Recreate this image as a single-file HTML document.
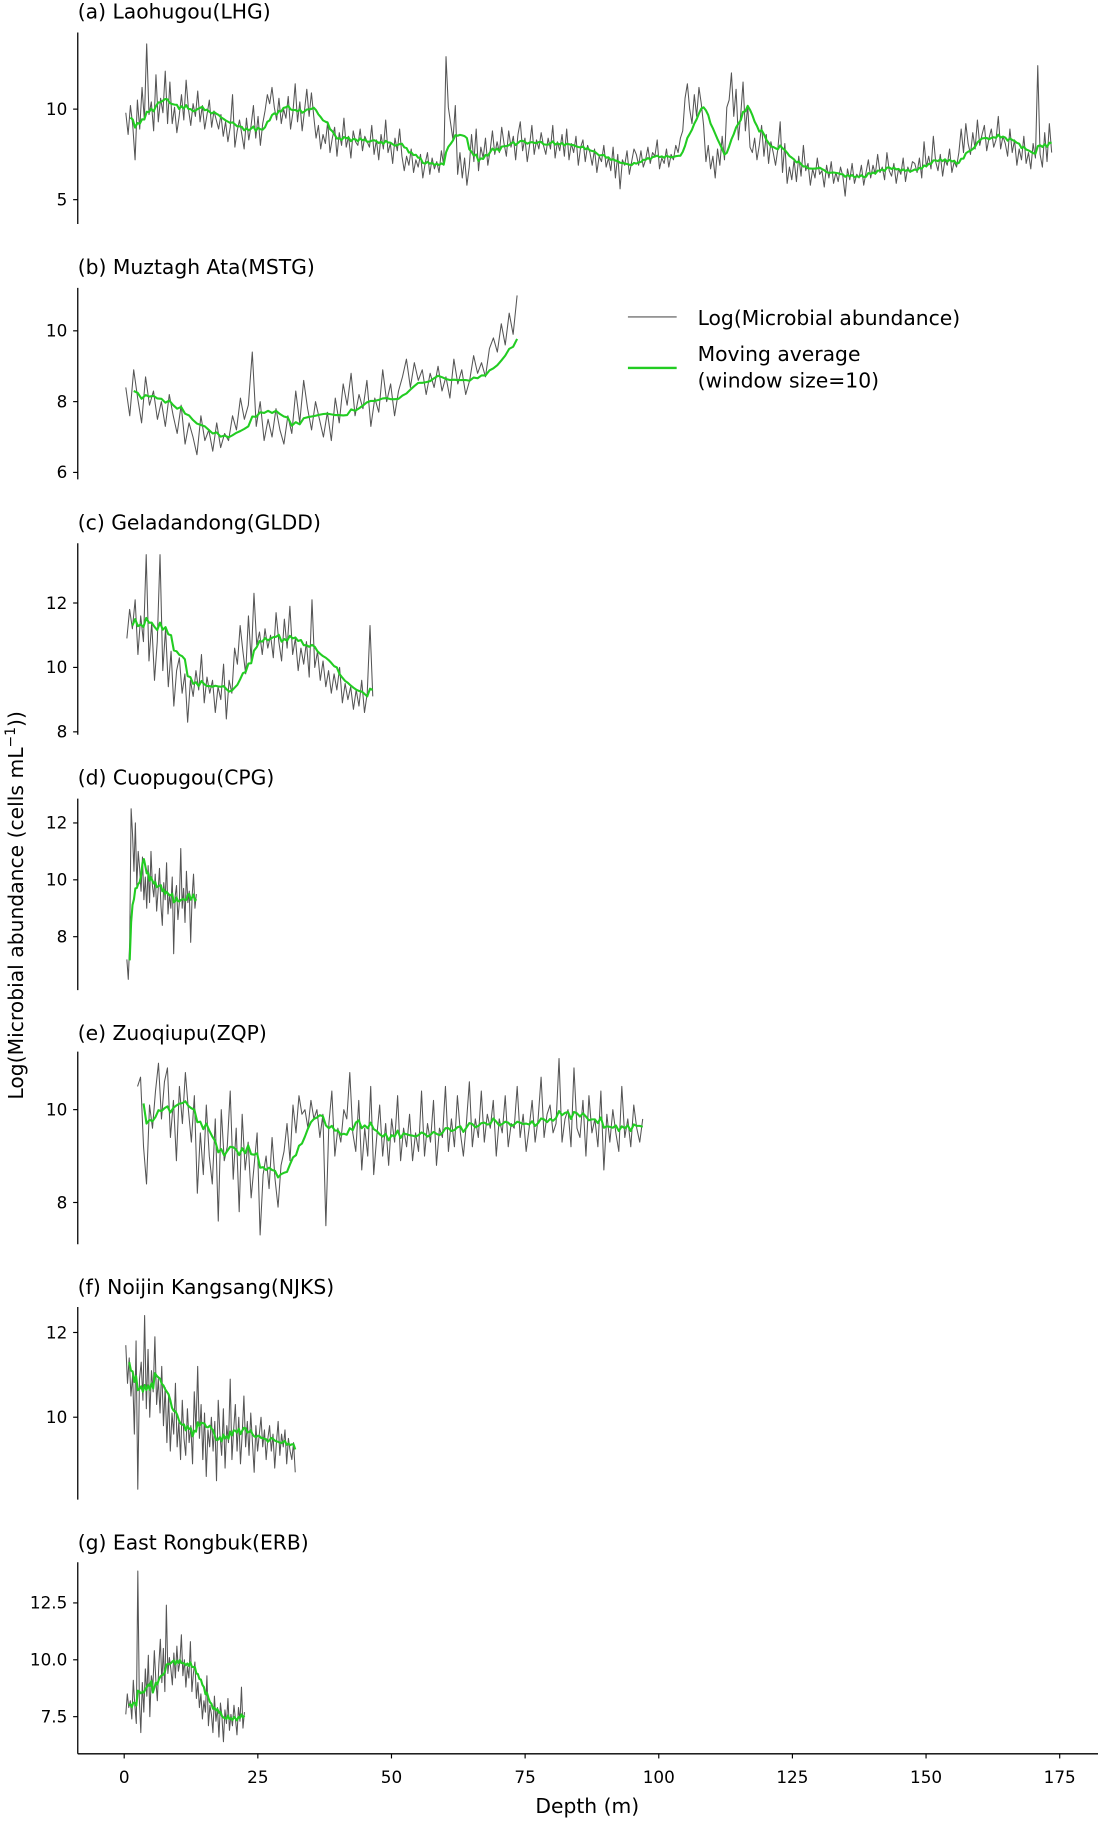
<!DOCTYPE html>
<html><head><meta charset="utf-8"><style>
html,body{margin:0;padding:0;background:#fff}
svg text{font-family:"DejaVu Sans","Liberation Sans",sans-serif;fill:#000}
</style></head><body>
<svg id="fig" width="1098" height="1820" viewBox="0 0 946 1568" xmlns="http://www.w3.org/2000/svg">
<rect width="946" height="1568" fill="#fff"/>
<g id="panels"></g>
<g>
<line x1="541" y1="273" x2="583" y2="273" stroke="#555" stroke-width="1"/>
<text x="601" y="280" font-size="17.5">Log(Microbial abundance)</text>
<line x1="541" y1="317" x2="583" y2="317" stroke="#22cc22" stroke-width="2"/>
<text x="601" y="311" font-size="17.5">Moving average</text>
<text x="601" y="334" font-size="17.5">(window size=10)</text>
</g>
<text transform="translate(20,780) rotate(-90)" text-anchor="middle" font-size="17.5">Log(Microbial abundance (cells mL<tspan font-size="12" dy="-7">−1</tspan><tspan dy="7">))</tspan></text>
<text x="506" y="1562" text-anchor="middle" font-size="17.5">Depth (m)</text>
</svg>
<script>
const xTicks=[0,25,50,75,100,125,150,175];
const lhgVals=[9.8,8.6,10.2,9.1,7.2,10.5,8.9,11.2,9.4,13.6,9.7,10.4,8.8,11.9,9.3,10.6,9.8,12.1,9.2,11.5,
9.2,10.1,8.7,9.6,10.8,9.4,11.6,10.0,9.1,10.3,9.6,11.0,9.3,10.2,8.9,9.7,10.5,9.0,9.9,9.4,
8.9,9.7,8.5,9.3,8.2,9.0,10.8,7.9,8.8,9.4,8.6,7.8,9.5,8.3,9.1,10.2,8.4,9.6,8.0,9.2,
9.9,10.8,10.3,11.2,10.1,9.4,10.6,9.2,10.0,9.5,10.7,8.9,9.8,11.4,9.3,10.4,8.8,9.9,11.1,9.6,
10.9,9.6,8.4,9.1,7.8,8.6,8.1,9.3,7.6,8.4,9.0,7.4,8.7,8.0,9.5,7.9,8.5,7.3,8.8,8.2,
8.0,8.9,7.7,8.5,8.2,7.9,9.1,7.5,8.3,7.2,8.6,7.8,9.4,7.6,8.1,7.0,8.4,7.7,8.9,7.4,
6.6,7.4,6.9,7.8,6.5,7.2,6.8,7.5,6.2,7.0,7.6,6.4,7.3,6.7,7.1,6.5,7.7,6.9,12.9,10.1,
9.2,8.3,10.2,6.4,7.6,6.2,7.3,5.8,6.8,8.6,7.1,8.9,6.6,7.9,7.3,8.4,6.9,7.7,8.8,7.5,
8.2,7.6,9.0,8.1,7.4,8.8,7.9,8.5,7.2,8.6,9.3,7.7,8.4,7.1,8.0,9.1,7.5,8.3,7.8,8.7,
8.0,7.5,8.4,7.8,9.1,7.3,8.2,7.7,8.6,7.4,8.9,7.2,8.1,7.6,8.5,6.9,7.9,8.3,7.1,8.0,
7.6,6.9,7.8,6.5,7.4,7.1,8.0,6.8,7.3,6.6,7.9,6.2,7.5,5.6,7.2,6.9,7.7,6.4,7.1,7.8,
7.5,6.9,7.7,6.8,7.2,7.9,7.0,7.6,7.4,8.3,6.7,7.3,7.0,7.8,6.8,7.5,7.2,8.0,7.6,8.4,
8.8,10.6,11.4,10.0,9.2,10.8,9.6,11.2,10.3,9.1,7.1,8.0,6.7,7.4,6.2,7.8,6.9,8.5,7.2,10.1,
10.5,12.0,9.6,11.1,8.3,9.7,11.5,8.8,10.2,7.9,7.6,8.4,7.2,8.0,9.1,7.4,8.6,7.0,8.2,7.6,
6.9,7.8,9.3,6.5,8.1,5.9,6.8,6.1,7.2,6.0,7.4,6.3,8.0,6.6,7.0,5.8,6.7,6.2,7.3,6.4,
6.6,5.7,6.9,6.2,7.1,5.9,6.5,6.0,6.8,6.3,5.2,6.7,6.1,7.0,5.9,6.4,6.2,6.9,5.8,6.5,
7.2,6.2,6.9,6.4,7.5,6.5,6.8,6.1,7.6,6.6,6.3,7.0,5.9,6.7,6.4,7.3,6.0,6.8,6.5,7.1,
7.0,6.5,7.3,6.2,8.2,6.8,7.4,6.7,8.5,7.1,6.6,7.5,6.3,7.2,6.9,7.8,6.5,7.1,6.8,7.6,
8.9,7.6,9.2,8.1,7.5,8.7,7.8,9.4,8.0,8.6,9.1,7.7,8.4,8.9,7.9,8.3,9.6,7.8,8.5,8.1,
7.4,8.9,7.6,8.3,6.9,7.8,7.2,8.5,7.0,7.6,6.7,8.1,7.3,12.4,7.5,6.8,8.7,7.1,9.2,7.6];
const mstgVals=[8.4,7.6,8.9,8.1,7.4,8.7,7.9,8.3,7.5,8.0,7.3,8.2,7.6,7.1,7.9,6.8,7.4,7.0,6.5,7.6,6.9,7.2,6.6,7.4,6.7,7.1,6.9,7.6,7.2,8.1,7.5,7.9,9.4,7.3,8.0,6.9,7.5,7.0,7.8,7.2,6.8,7.6,7.1,8.3,7.4,8.6,7.8,7.2,8.0,7.5,7.0,7.7,6.9,8.1,7.4,8.5,7.9,8.8,7.6,8.2,7.8,8.6,7.3,8.1,7.7,8.9,8.0,8.5,7.6,8.3,8.7,9.2,8.4,9.1,8.6,8.9,8.2,8.8,8.4,9.0,8.3,8.7,8.1,9.2,8.5,8.9,8.2,8.6,9.3,8.8,9.1,8.7,9.5,9.8,9.4,10.2,9.6,10.5,9.9,11.0];
const glddVals=[10.9,11.8,11.2,12.1,10.4,11.6,10.8,13.5,10.2,11.4,9.6,10.8,13.5,9.9,11.2,9.4,10.5,8.8,9.9,10.3,9.2,9.8,8.3,9.6,9.1,9.9,9.3,10.4,8.9,9.7,9.2,9.6,8.6,9.4,9.0,10.1,8.4,9.6,9.2,10.6,10.1,11.3,10.5,9.8,11.6,10.2,12.3,10.7,11.1,10.4,11.2,10.6,11.0,10.3,11.7,10.8,10.2,11.5,10.6,11.9,10.4,10.9,9.9,10.6,10.1,10.8,9.7,12.1,10.0,10.5,9.6,10.2,9.4,9.9,9.2,9.8,9.3,10.0,8.9,9.5,9.0,9.4,8.7,9.3,8.8,9.6,8.6,9.2,11.3,9.1];
const cpgVals=[7.2,6.5,7.8,12.5,11.6,10.3,12.0,9.8,11.0,10.4,9.6,10.8,9.3,10.1,9.0,10.5,9.2,11.0,9.8,9.4,10.2,8.9,9.6,10.4,9.1,8.4,9.9,9.3,10.6,8.8,9.5,9.0,10.1,7.4,9.4,9.8,8.6,9.2,11.1,9.0,9.7,8.5,10.3,9.2,9.6,7.8,9.4,10.2,9.0,9.5];
const zqpVals=[10.5,10.7,9.2,8.4,10.1,9.6,10.4,11.0,9.8,10.6,10.9,9.4,10.2,8.9,10.5,9.7,10.8,10.0,9.3,10.3,8.2,9.5,8.6,10.1,9.0,8.4,9.8,7.6,10.0,8.9,9.2,10.4,8.5,9.6,7.8,9.9,8.7,9.3,8.1,8.8,9.5,7.3,8.6,9.0,8.3,9.4,8.5,7.9,8.8,9.1,9.7,8.9,10.1,9.5,10.3,9.9,10.0,9.6,10.2,9.8,10.0,9.4,9.9,7.5,9.7,10.4,9.0,9.6,9.3,10.0,9.8,10.8,9.5,9.1,10.2,8.7,9.6,9.0,10.5,8.6,9.4,10.1,9.0,9.7,8.8,9.8,9.3,10.3,8.9,9.6,9.2,9.9,8.9,9.5,9.1,10.4,9.0,9.7,9.3,10.2,8.8,9.6,9.4,10.5,9.1,9.8,9.2,10.3,9.5,9.0,9.7,10.6,9.2,9.8,9.4,10.4,9.3,9.9,9.6,10.2,9.0,9.8,9.5,10.3,9.2,9.7,9.6,10.5,9.4,9.9,9.1,9.6,10.2,9.3,9.8,10.7,9.4,9.9,10.1,9.5,9.7,11.1,9.3,9.8,10.0,9.2,10.9,9.6,9.4,10.2,9.0,10.3,9.5,9.8,9.2,10.4,8.7,9.9,9.3,10.0,9.5,9.1,10.5,9.4,9.8,9.2,10.1,9.6,9.3,9.8];
const njksVals=[11.7,10.8,11.4,10.5,11.0,9.6,11.8,8.3,10.9,11.3,10.4,12.4,10.2,11.6,10.0,11.1,10.6,11.9,10.3,10.9,10.1,11.2,9.8,10.7,9.4,10.5,9.2,10.1,9.6,10.8,9.3,9.9,9.0,10.4,9.5,9.1,10.2,9.4,9.8,8.9,10.6,9.7,11.2,9.5,10.3,9.0,10.1,8.6,9.7,9.3,10.0,9.2,9.9,8.5,10.4,9.6,9.1,10.2,8.8,9.8,9.4,10.9,9.0,9.7,10.3,9.2,10.0,8.9,9.6,10.5,9.3,9.9,9.1,10.1,9.4,8.7,9.8,9.2,9.6,10.0,9.3,9.7,9.0,9.5,9.8,9.2,9.6,8.8,9.4,9.9,9.1,9.6,9.3,9.7,8.9,9.5,9.2,9.0,9.4,8.7];
const erbVals=[7.6,8.5,7.9,8.2,7.4,9.1,8.0,7.2,13.9,8.3,6.8,9.0,7.7,9.6,8.4,10.2,7.5,9.3,8.8,10.4,9.1,8.2,9.8,10.9,9.0,10.5,8.6,12.4,9.4,10.1,9.6,8.9,10.3,9.2,10.6,9.5,9.9,11.1,9.3,10.0,8.8,9.7,9.2,10.8,8.6,9.4,9.9,8.3,9.0,7.9,8.5,7.4,8.2,7.7,9.3,7.1,8.0,7.6,6.8,8.4,7.3,7.9,6.6,8.1,7.5,6.4,7.8,7.2,8.3,6.9,7.6,7.1,8.0,7.4,6.7,7.9,7.3,8.8,7.0,7.7];
const depthRanges=[[0.3,173.5],[0.3,73.5],[0.5,46.5],[0.5,13.5],[2.5,97],[0.3,32],[0.3,22.5]];
const titles=["(a) Laohugou(LHG)","(b) Muztagh Ata(MSTG)","(c) Geladandong(GLDD)","(d) Cuopugou(CPG)","(e) Zuoqiupu(ZQP)","(f) Noijin Kangsang(NJKS)","(g) East Rongbuk(ERB)"];
const yTicks=[[10,5],[10,8,6],[12,10,8],[12,10,8],[10,8],[12,10],[12.5,10.0,7.5]];
const series=[lhgVals,mstgVals,glddVals,cpgVals,zqpVals,njksVals,erbVals];
const names=["lhg","mstg","gldd","cpg","zqp","njks","erb"];

const NS="http://www.w3.org/2000/svg";
const layout=[
 [16,28,193,94,15.6],[236,248,413,285,30.5],[456,468,633,575,27.75],[676,688,853,758,24.5],
 [896,906,1072,956,40],[1115,1126,1292,1221,36.5],[1335,1346,1511,1430,19.6]];
const X0=107, XS=806/175, SP=67;
function xScale(d){return X0+d*XS;}
const g=document.getElementById('panels');
function mk(tag,attrs,parent){const e=document.createElementNS(NS,tag);for(const k in attrs)e.setAttribute(k,attrs[k]);parent.appendChild(e);return e;}
series.forEach((vals,p)=>{
  const L=layout[p];
  const yScale=v=>L[3]+(10-v)*L[4];
  const pg=mk('g',{},g);
  
  
  const t=mk('text',{x:SP,y:L[0],'font-size':17.5},pg);t.textContent=titles[p];
  
  
  const sp=mk('line',{x1:SP,x2:SP,y1:L[1],y2:L[2],stroke:'#000','stroke-width':1.1},pg);
  
  
  yTicks[p].forEach(v=>{
    const y=yScale(v);
    mk('line',{x1:SP-4,x2:SP,y1:y,y2:y,stroke:'#000','stroke-width':1},pg);
    const tl=mk('text',{x:SP-9,y:y+5,'font-size':14.5,'text-anchor':'end'},pg);
    tl.textContent=(p===6?v.toFixed(1):String(v));
    
    
  });
  const [d0,d1]=depthRanges[p];const n=vals.length;
  const dep=i=>d0+(d1-d0)*i/(n-1);
  const raw=vals.map((v,i)=>xScale(dep(i)).toFixed(2)+','+yScale(v).toFixed(2)).join(' ');
  const rl=mk('polyline',{points:raw,fill:'none',stroke:'#555','stroke-width':0.9,'stroke-linejoin':'round'},pg);
  
  
  const ma=[];
  for(let i=2;i<n;i++){const s=vals.slice(Math.max(0,i-9),i+1);const m=s.reduce((a,b)=>a+b,0)/s.length;ma.push(xScale(dep(i)).toFixed(2)+','+yScale(m).toFixed(2));}
  const ml=mk('polyline',{points:ma.join(' '),fill:'none',stroke:'#22cc22','stroke-width':1.8,'stroke-linejoin':'round'},pg);
  
  
});
const ax=mk('g',{},g);


mk('line',{x1:SP,x2:946,y1:1511,y2:1511,stroke:'#000','stroke-width':1.1},ax);
xTicks.forEach(d=>{
  const x=xScale(d);
  mk('line',{x1:x,x2:x,y1:1511,y2:1515,stroke:'#000','stroke-width':1},ax);
  const tl=mk('text',{x:x,y:1536,'font-size':14.5,'text-anchor':'middle'},ax);
  tl.textContent=d;
  
  
});
</script>
</body></html>
